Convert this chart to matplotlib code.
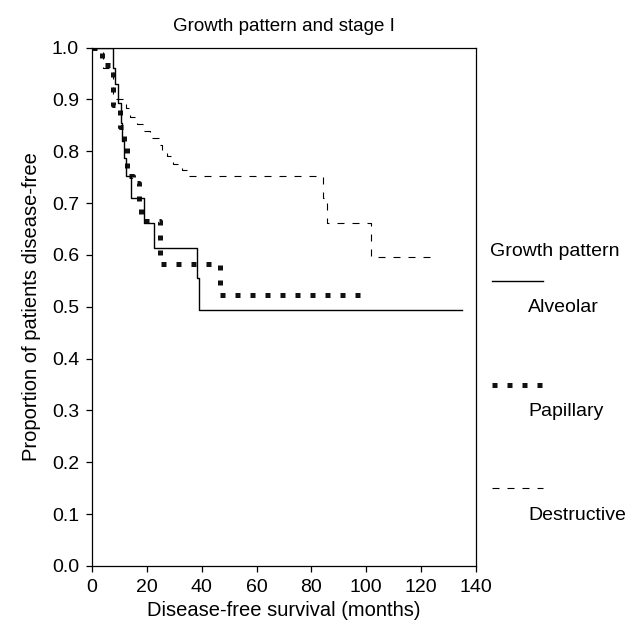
import matplotlib
matplotlib.use('Agg')
import matplotlib.pyplot as plt
from matplotlib.lines import Line2D

plt.rcParams['font.family'] = ['Liberation Sans', 'DejaVu Sans']

# Kaplan-Meier step data (months, proportion disease-free)
alveolar_t = [0, 7.5, 8.5, 9.5, 10.5, 11, 11.5, 12.5, 14.2, 19, 22.6, 38.3, 39, 135]
alveolar_s = [1.0, 0.961, 0.93, 0.892, 0.855, 0.82, 0.786, 0.753, 0.709, 0.661, 0.613, 0.555, 0.493, 0.493]

papillary_t = [0, 3.5, 7.5, 10.2, 11.5, 12.8, 14.9, 17, 17.8, 24.8, 46.5, 98]
papillary_s = [1.0, 0.966, 0.89, 0.846, 0.811, 0.753, 0.738, 0.70, 0.665, 0.582, 0.522, 0.522]

destructive_t = [0, 4, 7.5, 12.5, 14, 16.5, 18.6, 21.1, 24.8, 25.5, 27.3, 29.5, 32.8, 34.6, 84.2, 85.7, 101.7, 126]
destructive_s = [1.0, 0.96, 0.90, 0.884, 0.865, 0.852, 0.838, 0.825, 0.812, 0.80, 0.79, 0.776, 0.763, 0.753, 0.709, 0.661, 0.595, 0.595]

x_ticks = [0, 20, 40, 60, 80, 100, 120, 140]
y_ticks = [0.0, 0.1, 0.2, 0.3, 0.4, 0.5, 0.6, 0.7, 0.8, 0.9, 1.0]
group_names = ['Alveolar', 'Papillary', 'Destructive']

solid_style = dict(color='black', lw=1.0, linestyle='-')
dot_style = dict(color='#111111', lw=3.6, linestyle=(0, (1, 2)), dash_capstyle='butt')
dash_style = dict(color='black', lw=0.8, linestyle=(0, (6.3, 7.2)))

fig = plt.figure(figsize=(6.34, 6.26), dpi=100)
ax = fig.add_axes([92 / 634, 1 - 566 / 626, (476 - 92) / 634, (566 - 47.5) / 626])

ax.step(destructive_t, destructive_s, where='post', **dash_style)
ax.step(papillary_t, papillary_s, where='post', **dot_style)
ax.step(alveolar_t, alveolar_s, where='post', **solid_style)

ax.set_xlim(0, 140)
ax.set_ylim(0, 1.0)
ax.set_xticks(x_ticks)
ax.set_yticks(y_ticks)
ax.set_yticklabels([f'{v:.1f}' for v in y_ticks])
ax.tick_params(direction='out', length=4.3, width=0.9, labelsize=14, pad=5)
for sp in ax.spines.values():
    sp.set_linewidth(0.9)

ax.set_xlabel('Disease-free survival (months)', fontsize=14.5, labelpad=4)
ax.set_ylabel('Proportion of patients disease-free', fontsize=14.5, labelpad=8)
ax.set_title('Growth pattern and stage I', fontsize=13.5, pad=12)

# legend drawn by hand: title, sample line, indented label underneath
def fy(y):
    return 1 - y / 626

def fx(x):
    return x / 634

fig.text(fx(490), fy(252), 'Growth pattern', fontsize=14, va='center', ha='left')
styles = [solid_style, dot_style, dash_style]
line_y = [281, 385, 488]
for name, st, ly in zip(group_names, styles, line_y):
    fig.add_artist(Line2D([fx(492), fx(543)], [fy(ly), fy(ly)], **st))
    fig.text(fx(528), fy(ly + 27), name, fontsize=14, va='center', ha='left')

fig.savefig('out.png', dpi=100)
